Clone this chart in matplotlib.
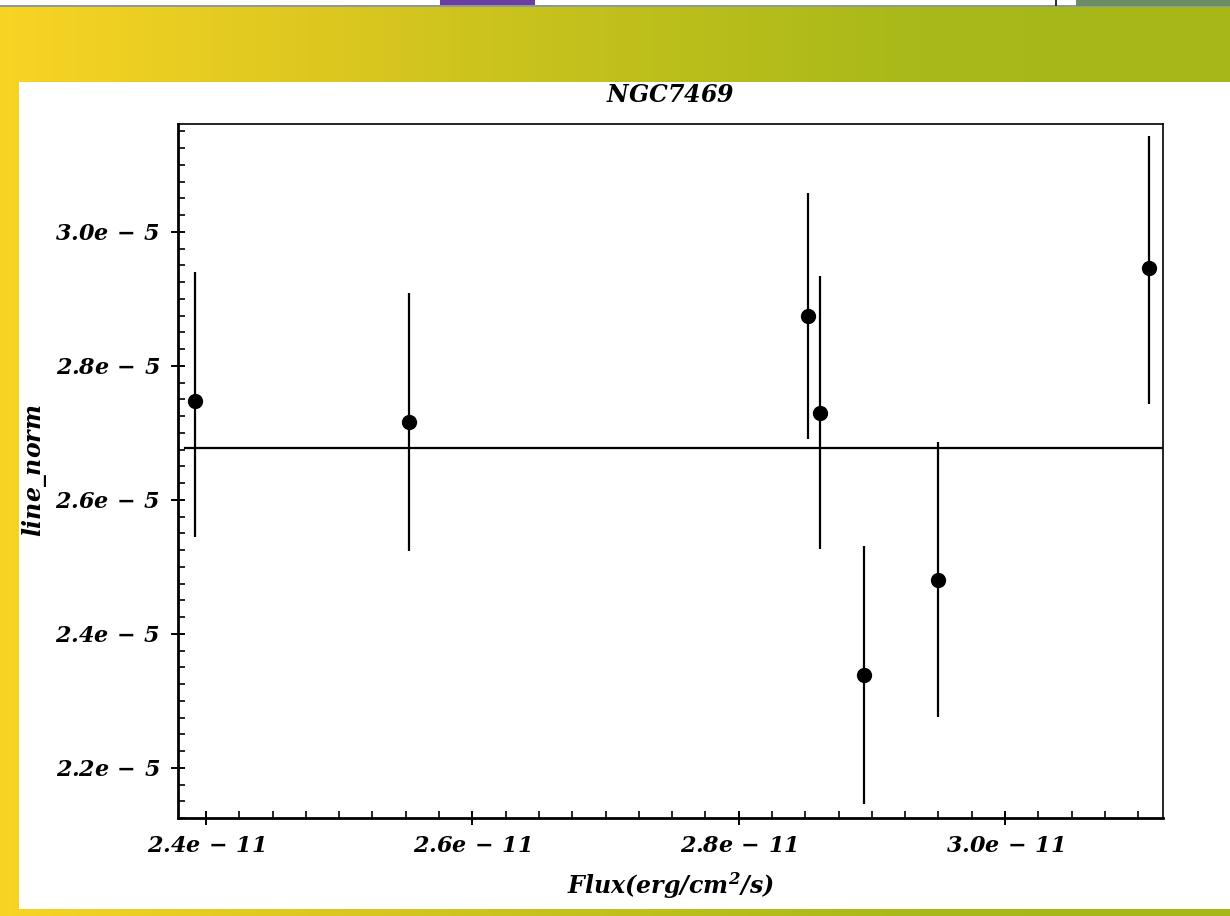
import numpy as np
import matplotlib
matplotlib.use("Agg")
import matplotlib.pyplot as plt
from matplotlib.patches import Rectangle
from matplotlib.ticker import FixedLocator, MultipleLocator, FuncFormatter

# ---- data ----
flux = [2.3917e-11, 2.5523e-11, 2.8518e-11, 2.8608e-11, 2.8938e-11, 2.9493e-11, 3.1081e-11]
line_norm = [2.748e-5, 2.716e-5, 2.875e-5, 2.730e-5, 2.339e-5, 2.481e-5, 2.946e-5]
err_up = [0.192e-5, 0.193e-5, 0.183e-5, 0.204e-5, 0.192e-5, 0.205e-5, 0.197e-5]
err_lo = [0.203e-5, 0.192e-5, 0.184e-5, 0.203e-5, 0.193e-5, 0.205e-5, 0.203e-5]
mean_level = 2.6776e-5
line_x = [2.3842e-11, 3.1186e-11]
xticks = [2.4e-11, 2.6e-11, 2.8e-11, 3.0e-11]
yticks = [2.2e-5, 2.4e-5, 2.6e-5, 2.8e-5, 3.0e-5]
title = "NGC7469"
xlabel = r"$Flux(erg/cm^2/s)$"
ylabel = r"$line\_norm$"

plt.rcParams['mathtext.fontset'] = 'custom'
plt.rcParams['mathtext.rm'] = 'DejaVu Serif:bold:italic'
plt.rcParams['mathtext.it'] = 'DejaVu Serif:bold:italic'
plt.rcParams['mathtext.bf'] = 'DejaVu Serif:bold:italic'

W, H = 1230, 916
fig = plt.figure(figsize=(W / 100, H / 100), dpi=100)

# background gradient
bg = fig.add_axes([0, 0, 1, 1], zorder=-10)
bg.set_axis_off()
cols = np.array([[248, 212, 36], [222, 200, 32], [192, 192, 28], [168, 185, 25], [165, 184, 24]]) / 255.0
t = np.linspace(0, 1, W)
pos = np.linspace(0, 1, len(cols))
grad = np.stack([np.interp(t, pos, cols[:, k]) for k in range(3)], axis=-1)
bg.imshow(grad[None, :, :], aspect='auto', extent=[0, 1, 0, 1])
bg.set_xlim(0, 1)
bg.set_ylim(0, 1)

def px(x0, y0, x1, y1, **kw):
    fig.add_artist(Rectangle((x0 / W, 1 - y1 / H), (x1 - x0) / W, (y1 - y0) / H,
                             transform=fig.transFigure, **kw))

# top screen strip
px(0, 0, 1230, 6, facecolor='white', edgecolor='none', zorder=-5)
px(0, 5, 1230, 7, facecolor='#8a9aa0', edgecolor='none', zorder=-5)
px(1076, 0, 1230, 6, facecolor='#6b8a66', edgecolor='none', zorder=-4)
px(1055, 0, 1057, 6, facecolor='#333333', edgecolor='none', zorder=-4)
px(440, 0, 535, 5, facecolor='#6a3fa0', edgecolor='none', zorder=-4)
# white panel
px(19, 82, 1230, 909, facecolor='white', edgecolor='none', zorder=-5)

ax = fig.add_axes([178 / W, 1 - 818 / H, (1163 - 178) / W, (818 - 124) / H])
ax.set_facecolor('white')

ax.errorbar(flux, line_norm, yerr=[err_lo, err_up], fmt='o', color='black',
            ecolor='black', elinewidth=1.6, markersize=10, capsize=0, zorder=3)
ax.plot(line_x, [mean_level, mean_level], color='black', lw=1.6, zorder=2)

ax.set_xlim(2.379e-11, 3.1186e-11)
ax.set_ylim(2.125e-5, 3.161e-5)

def fmt(v, p):
    m, e = f"{v:.1e}".split("e")
    return f"${m}e\\,{e[0]}\\,{int(e[1:])}$"

ax.xaxis.set_major_locator(FixedLocator(xticks))
ax.yaxis.set_major_locator(FixedLocator(yticks))
ax.xaxis.set_minor_locator(MultipleLocator(0.025e-11))
ax.yaxis.set_minor_locator(MultipleLocator(0.025e-5))
ax.xaxis.set_major_formatter(FuncFormatter(fmt))
ax.yaxis.set_major_formatter(FuncFormatter(fmt))

ax.tick_params(which='major', direction='inout', length=10, width=1.4,
               labelsize=16, top=False, right=False)
ax.tick_params(which='minor', direction='in', length=5, width=1.2, top=False, right=False)
ax.tick_params(axis='y', pad=8)
ax.tick_params(axis='x', pad=8)

for s in ['left', 'bottom']:
    ax.spines[s].set_linewidth(2.0)
for s in ['top', 'right']:
    ax.spines[s].set_linewidth(1.2)

ax.set_title(f"${title}$", fontsize=17, pad=16)
ax.set_xlabel(xlabel, fontsize=17, labelpad=10)
ax.set_ylabel(ylabel, fontsize=17)
ax.yaxis.set_label_coords(-0.131, 0.5)

fig.savefig("out.png", dpi=100)
